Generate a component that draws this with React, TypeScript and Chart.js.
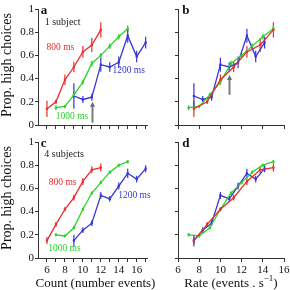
import React, { useEffect, useRef } from "react";
import { Chart, registerables } from "chart.js";

Chart.register(...registerables);

const SERIF = '"Liberation Serif", "DejaVu Serif", serif';
const RED = "rgb(232,46,46)";
const GREEN = "rgb(40,212,40)";
const BLUE = "rgb(54,54,214)";
const AXIS = "#333";

// Number of events presented at each stimulus duration
const count800 = [6, 7, 8, 9, 10, 11, 12];
const count1000 = [7, 8, 9, 10, 11, 12, 13, 14, 15];
const count1200 = [9, 10, 11, 12, 13, 14, 15, 16, 17];

// The same stimuli expressed as event rate (events per second)
const rate800 = [7.5, 8.75, 10, 11.25, 12.5, 13.75, 15];
const rate1000 = [7, 8, 9, 10, 11, 12, 13, 14, 15];
const rate1200 = [7.5, 8.33, 9.17, 10, 10.83, 11.67, 12.5, 13.33, 14.17];

// Single subject: proportion of "high" choices and error half-widths
const one800 = [0.14, 0.2, 0.39, 0.5, 0.63, 0.69, 0.82];
const one800Err = [0.07, 0.02, 0.045, 0.045, 0.05, 0.06, 0.065];
const one1000 = [0.15, 0.16, 0.26, 0.37, 0.53, 0.6, 0.68, 0.76, 0.83];
const one1000Err = [0.02, 0.015, 0.02, 0.02, 0.025, 0.02, 0.025, 0.025, 0.03];
const one1200 = [0.25, 0.22, 0.24, 0.52, 0.5, 0.54, 0.77, 0.59, 0.71];
const one1200Err = [0.11, 0.03, 0.03, 0.06, 0.04, 0.05, 0.06, 0.05, 0.05];

// Four subjects pooled
const four800 = [0.15, 0.29, 0.42, 0.52, 0.66, 0.76, 0.78];
const four800Err = [0.03, 0.02, 0.02, 0.025, 0.03, 0.03, 0.035];
const four1000 = [0.2, 0.19, 0.26, 0.42, 0.56, 0.65, 0.74, 0.8, 0.83];
const four1000Err = [0.015, 0.015, 0.015, 0.015, 0.015, 0.015, 0.015, 0.015, 0.015];
const four1200 = [0.15, 0.24, 0.3, 0.54, 0.51, 0.62, 0.73, 0.68, 0.77];
const four1200Err = [0.05, 0.025, 0.025, 0.03, 0.025, 0.03, 0.04, 0.03, 0.03];

// Axis ticks
const countTicks = [6, 7, 8, 9, 10, 11, 12, 13, 14, 15, 16, 17];
const rateTicks = [6, 8, 10, 12, 14, 16];
const propTicks = [0, 0.2, 0.4, 0.6, 0.8, 1];

const durationLabels = ["800 ms", "1000 ms", "1200 ms"];
const colors = [RED, GREEN, BLUE];

type Note = { x: number; y: number; text: string; color: string; font: string; align: CanvasTextAlign };
type Arrow = { x: number; y0: number; y1: number };

type PanelSpec = {
  xs: number[][];
  ys: number[][];
  errs: number[][];
  xMin: number;
  xMax: number;
  xTicks: number[];
  xLabels: boolean;
  yLabels: boolean;
  pad: { left: number; right: number; top: number; bottom: number };
  yWidth: number;
  xHeight: number;
  notes: Note[];
  arrows: Arrow[];
  xTitle?: "count" | "rate";
  yTitle?: string;
};

const letterFont = `bold 13px ${SERIF}`;
const subjFont = `10px ${SERIF}`;
const seriesFont = `9.5px ${SERIF}`;

function seriesNotes(pos: [number, number][]): Note[] {
  return pos.map(([x, y], i) => ({
    x,
    y,
    text: durationLabels[i],
    color: colors[i],
    font: seriesFont,
    align: "center" as CanvasTextAlign,
  }));
}

const panels: PanelSpec[] = [
  {
    xs: [count800, count1000, count1200],
    ys: [one800, one1000, one1200],
    errs: [one800Err, one1000Err, one1200Err],
    xMin: 5,
    xMax: 17.15,
    xTicks: countTicks,
    xLabels: false,
    yLabels: true,
    pad: { left: 0, right: 143, top: 9, bottom: 159 },
    yWidth: 38,
    xHeight: 6,
    notes: [
      { x: 5.3, y: 0.985, text: "a", color: "#111", font: letterFont, align: "left" },
      { x: 5.75, y: 0.885, text: "1 subject", color: "#222", font: subjFont, align: "left" },
      ...seriesNotes([
        [7.5, 0.67],
        [8.8, 0.07],
        [15.1, 0.47],
      ]),
    ],
    arrows: [{ x: 11, y0: 0.02, y1: 0.2 }],
    yTitle: "Prop. high choices",
  },
  {
    xs: [rate800, rate1000, rate1200],
    ys: [one800, one1000, one1200],
    errs: [one800Err, one1000Err, one1200Err],
    xMin: 6,
    xMax: 16,
    xTicks: rateTicks,
    xLabels: false,
    yLabels: false,
    pad: { left: 172, right: 6, top: 9, bottom: 159 },
    yWidth: 6,
    xHeight: 6,
    notes: [{ x: 6.4, y: 0.985, text: "b", color: "#111", font: letterFont, align: "left" }],
    arrows: [{ x: 10.8, y0: 0.26, y1: 0.43 }],
  },
  {
    xs: [count800, count1000, count1200],
    ys: [four800, four1000, four1200],
    errs: [four800Err, four1000Err, four1200Err],
    xMin: 5,
    xMax: 17.15,
    xTicks: countTicks,
    xLabels: true,
    yLabels: true,
    pad: { left: 0, right: 143, top: 142, bottom: 0 },
    yWidth: 38,
    xHeight: 32,
    notes: [
      { x: 5.3, y: 0.99, text: "c", color: "#111", font: letterFont, align: "left" },
      { x: 5.7, y: 0.895, text: "4 subjects", color: "#222", font: subjFont, align: "left" },
      ...seriesNotes([
        [7.75, 0.655],
        [7.95, 0.085],
        [15.75, 0.54],
      ]),
    ],
    arrows: [],
    xTitle: "count",
    yTitle: "Prop. high choices",
  },
  {
    xs: [rate800, rate1000, rate1200],
    ys: [four800, four1000, four1200],
    errs: [four800Err, four1000Err, four1200Err],
    xMin: 6,
    xMax: 16,
    xTicks: rateTicks,
    xLabels: true,
    yLabels: false,
    pad: { left: 172, right: 6, top: 142, bottom: 0 },
    yWidth: 6,
    xHeight: 32,
    notes: [{ x: 6.4, y: 0.99, text: "d", color: "#111", font: letterFont, align: "left" }],
    arrows: [],
    xTitle: "rate",
  },
];

// Vertical error bars under each point
const errorBars = {
  id: "errorBars",
  beforeDatasetsDraw(chart: any, _args: any, opts: any) {
    const spec: PanelSpec = opts.spec;
    const ctx = chart.ctx;
    const ys = chart.scales.y;
    ctx.save();
    spec.errs.forEach((errs, di) => {
      const meta = chart.getDatasetMeta(di);
      ctx.strokeStyle = colors[di];
      ctx.lineWidth = 1.2;
      errs.forEach((e, j) => {
        const v = spec.ys[di][j];
        const px = meta.data[j].x;
        ctx.beginPath();
        ctx.moveTo(px, ys.getPixelForValue(v - e));
        ctx.lineTo(px, ys.getPixelForValue(v + e));
        ctx.stroke();
      });
    });
    ctx.restore();
  },
};

// Labels, arrows and axis titles
const overlay = {
  id: "overlay",
  afterDraw(chart: any, _args: any, opts: any) {
    const spec: PanelSpec = opts.spec;
    const ctx = chart.ctx;
    const xs = chart.scales.x;
    const ys = chart.scales.y;
    const area = chart.chartArea;
    ctx.save();
    ctx.textBaseline = "middle";
    spec.notes.forEach((n) => {
      ctx.font = n.font;
      ctx.fillStyle = n.color;
      ctx.textAlign = n.align;
      ctx.fillText(n.text, xs.getPixelForValue(n.x), ys.getPixelForValue(n.y));
    });
    spec.arrows.forEach((a) => {
      const px = Math.round(xs.getPixelForValue(a.x)) + 0.5;
      const p0 = ys.getPixelForValue(a.y0);
      const p1 = ys.getPixelForValue(a.y1);
      ctx.strokeStyle = "#7a7a7a";
      ctx.fillStyle = "#6a6a6a";
      ctx.lineWidth = 2;
      ctx.beginPath();
      ctx.moveTo(px, p0);
      ctx.lineTo(px, p1 + 4);
      ctx.stroke();
      ctx.beginPath();
      ctx.moveTo(px, p1);
      ctx.lineTo(px - 2.5, p1 + 5);
      ctx.lineTo(px + 2.5, p1 + 5);
      ctx.closePath();
      ctx.fill();
    });
    ctx.fillStyle = "#111";
    if (spec.yTitle) {
      ctx.font = `14px ${SERIF}`;
      ctx.textAlign = "center";
      ctx.translate(7, (area.top + area.bottom) / 2 - 2);
      ctx.rotate(-Math.PI / 2);
      ctx.fillText(spec.yTitle, 0, 0);
      ctx.setTransform(1, 0, 0, 1, 0, 0);
    }
    const ty = area.bottom + 26;
    const cx = (area.left + area.right) / 2;
    if (spec.xTitle === "count") {
      ctx.font = `13px ${SERIF}`;
      ctx.textAlign = "center";
      ctx.fillText("Count (number events)", cx + 3, ty);
    } else if (spec.xTitle === "rate") {
      const main = "Rate (events . s";
      const sup = "\u22121";
      const tail = ")";
      ctx.font = `13px ${SERIF}`;
      const w1 = ctx.measureText(main).width;
      const w3 = ctx.measureText(tail).width;
      ctx.font = `9px ${SERIF}`;
      const w2 = ctx.measureText(sup).width;
      let x = cx - (w1 + w2 + w3) / 2;
      ctx.textAlign = "left";
      ctx.font = `13px ${SERIF}`;
      ctx.fillText(main, x, ty);
      x += w1;
      ctx.font = `9px ${SERIF}`;
      ctx.fillText(sup, x, ty - 5);
      x += w2;
      ctx.font = `13px ${SERIF}`;
      ctx.fillText(tail, x, ty);
    }
    ctx.restore();
  },
};

function buildConfig(spec: PanelSpec): any {
  const tickFont = { family: SERIF, size: 11 };
  return {
    type: "line",
    data: {
      datasets: spec.xs.map((xv, i) => ({
        label: durationLabels[i],
        data: xv.map((x, j) => ({ x, y: spec.ys[i][j] })),
        borderColor: colors[i],
        backgroundColor: colors[i],
        borderWidth: 1.3,
        pointStyle: "rect",
        pointRadius: 1.6,
        pointBorderWidth: 0,
        tension: 0,
      })),
    },
    options: {
      responsive: false,
      animation: false,
      events: [],
      devicePixelRatio: 1,
      layout: { padding: spec.pad },
      plugins: {
        legend: { display: false },
        tooltip: { enabled: false },
        errorBars: { spec },
        overlay: { spec },
      },
      scales: {
        x: {
          type: "linear",
          min: spec.xMin,
          max: spec.xMax,
          afterBuildTicks: (s: any) => {
            s.ticks = spec.xTicks.map((v) => ({ value: v }));
          },
          afterFit: (s: any) => {
            s.height = spec.xHeight;
            s.paddingLeft = 0;
            s.paddingRight = 0;
          },
          grid: { drawOnChartArea: false, drawTicks: true, tickLength: 4, color: AXIS, lineWidth: 1 },
          border: { display: true, color: AXIS, width: 1 },
          ticks: {
            display: spec.xLabels,
            autoSkip: false,
            maxRotation: 0,
            padding: 2,
            color: "#111",
            font: tickFont,
            callback: (v: any) => (Number(v) % 2 === 0 ? String(v) : ""),
          },
        },
        y: {
          min: 0,
          max: 1,
          afterBuildTicks: (s: any) => {
            s.ticks = propTicks.map((v) => ({ value: v }));
          },
          afterFit: (s: any) => {
            s.width = spec.yWidth;
            s.paddingTop = 0;
            s.paddingBottom = 0;
          },
          grid: { drawOnChartArea: false, drawTicks: true, tickLength: 3, color: AXIS, lineWidth: 1 },
          border: { display: true, color: AXIS, width: 1 },
          ticks: {
            display: spec.yLabels,
            padding: 1,
            color: "#111",
            font: tickFont,
            callback: (v: any) => String(Math.round(Number(v) * 10) / 10),
          },
        },
      },
    },
    plugins: [errorBars, overlay],
  };
}

function Panel({ spec }: { spec: PanelSpec }) {
  const ref = useRef<HTMLCanvasElement>(null);
  useEffect(() => {
    const chart = new Chart(ref.current as HTMLCanvasElement, buildConfig(spec));
    return () => chart.destroy();
  }, [spec]);
  return (
    <canvas
      ref={ref}
      width={290}
      height={290}
      style={{ position: "absolute", left: 0, top: 0, width: 290, height: 290 }}
    />
  );
}

export default function App() {
  return (
    <div style={{ position: "fixed", left: 0, top: 0, width: 290, height: 290, background: "#fff", overflow: "hidden" }}>
      {panels.map((p, i) => (
        <Panel key={i} spec={p} />
      ))}
    </div>
  );
}
